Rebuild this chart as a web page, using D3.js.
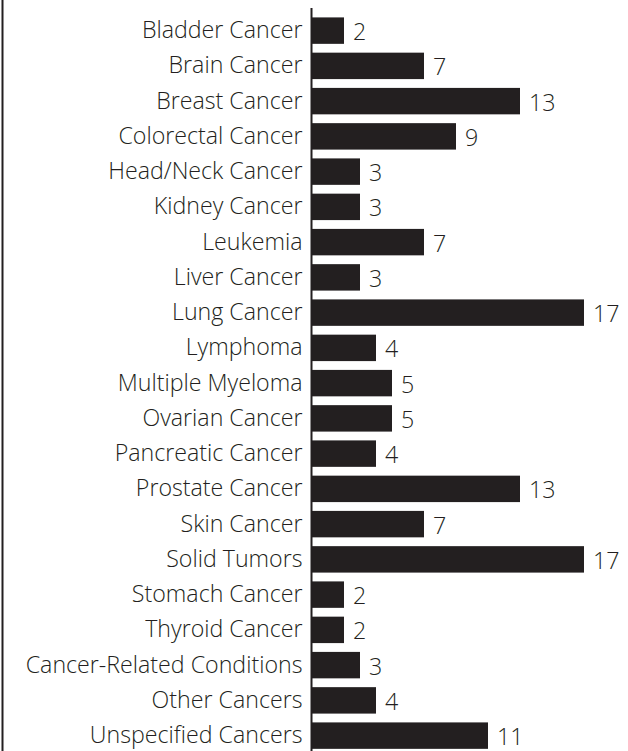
<!DOCTYPE html>
<html lang="en">
<head>
    <meta charset="utf-8">
    <title>cancer bars</title>
    <script src="https://cdn.jsdelivr.net/npm/d3@7"></script>
    <style>
        body { margin: 0; background: #fff; }
        text { font-family: "Open Sans", sans-serif; font-weight: 300; fill: #231f20; }
    </style>
</head>
<body>
<script>
    var categories = ['Bladder Cancer', 'Brain Cancer', 'Breast Cancer', 'Colorectal Cancer',
        'Head/Neck Cancer', 'Kidney Cancer', 'Leukemia', 'Liver Cancer', 'Lung Cancer',
        'Lymphoma', 'Multiple Myeloma', 'Ovarian Cancer', 'Pancreatic Cancer',
        'Prostate Cancer', 'Skin Cancer', 'Solid Tumors', 'Stomach Cancer', 'Thyroid Cancer',
        'Cancer-Related Conditions', 'Other Cancers', 'Unspecified Cancers'];
    var counts = [2, 7, 13, 9, 3, 3, 7, 3, 17, 4, 5, 5, 4, 13, 7, 17, 2, 2, 3, 4, 11];

    var width = 628, height = 751;
    var axisX = 312;
    var fontSize = '23.2px';

    var svg = d3.select('body').append('svg')
        .attr('width', width)
        .attr('height', height);

    // left frame line
    svg.append('line')
        .attr('x1', 2.5).attr('x2', 2.5)
        .attr('y1', 0).attr('y2', height)
        .attr('stroke', '#231f20').attr('stroke-width', 2);

    var yScale = d3.scaleBand()
        .domain(categories)
        .range([13, 13 + 21 * 35.25])
        .paddingInner(0.25)
        .paddingOuter(0.125);

    var xScale = d3.scaleLinear()
        .domain([0, 17])
        .range([axisX, 584]);

    // bars
    svg.append('g').selectAll('rect')
        .data(categories)
        .enter().append('rect')
        .attr('x', xScale(0))
        .attr('y', function (d) { return yScale(d); })
        .attr('width', function (d, i) { return xScale(counts[i]) - xScale(0); })
        .attr('height', yScale.bandwidth())
        .attr('fill', '#231f20');

    // axis on the left
    var yAxis = d3.axisLeft(yScale).tickSize(0).tickPadding(9);
    var g = svg.append('g')
        .attr('transform', 'translate(' + (axisX - 0.5) + ',0)')
        .call(yAxis);
    g.select('.domain')
        .attr('d', 'M0,8V' + height)
        .attr('stroke', '#231f20')
        .attr('stroke-width', 2);
    g.selectAll('text')
        .style('font-size', fontSize)
        .style('font-family', '"Open Sans", sans-serif')
        .attr('fill', '#231f20');

    // value labels
    svg.append('g').selectAll('text')
        .data(categories)
        .enter().append('text')
        .attr('x', function (d, i) { return xScale(counts[i]) + 9; })
        .attr('y', function (d) { return yScale(d) + yScale.bandwidth() / 2 + 1.5; })
        .attr('dy', '0.35em')
        .style('font-size', fontSize)
        .text(function (d, i) { return counts[i]; });
</script>
</body>
</html>
